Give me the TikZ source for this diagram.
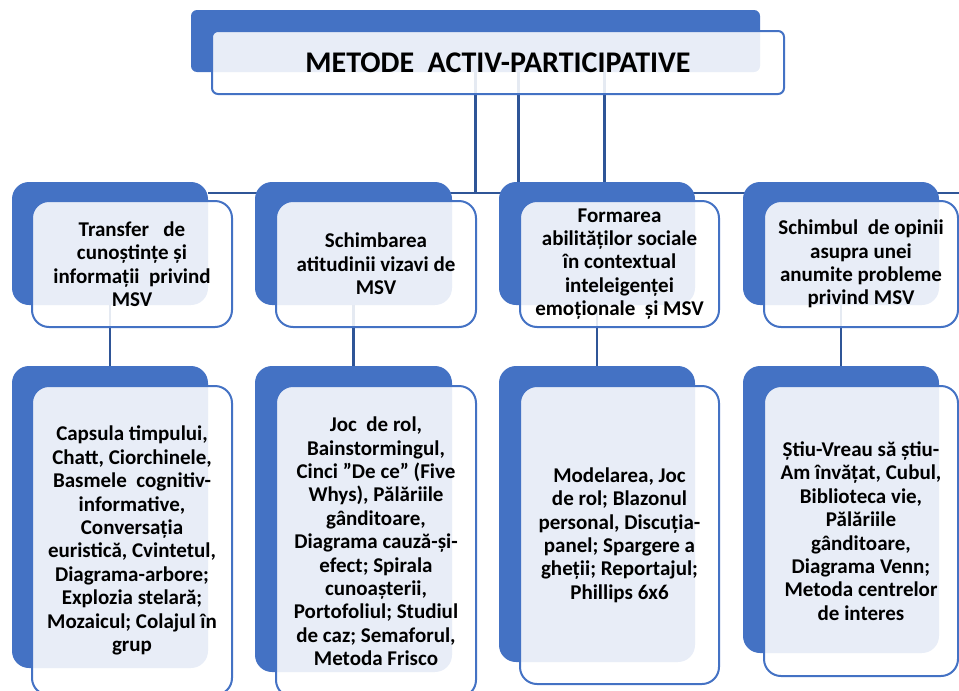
\documentclass[tikz,border=0pt]{standalone}
\usepackage{fontspec}
\setmainfont{Carlito}
\definecolor{boxblue}{RGB}{68,114,196}
\definecolor{linkblue}{RGB}{47,85,151}
\pgfdeclarelayer{bg}
\pgfsetlayers{bg,main}
\tikzset{
  back/.style={fill=boxblue, rounded corners=17pt, inner sep=0pt},
  front/.style={draw=boxblue, line width=2pt, fill=white, fill opacity=0.88, text opacity=1,
    rounded corners=17pt, inner sep=0pt, align=center, font=\bfseries\fontsize{21}{23.4}\selectfont},
  link/.style={draw=linkblue, line width=2.5pt}
}
\begin{document}
\begin{tikzpicture}[x=1pt,y=-1pt]
\useasboundingbox (0,0) rectangle (959,691);
% titlu
\node[back, minimum width=569pt, minimum height=62pt, rounded corners=6pt] (b0) at (475.5,41) {};
\node[front, minimum width=572pt, minimum height=63pt, rounded corners=6pt,
  font=\bfseries\fontsize{30}{34}\selectfont] (f0) at (498,62.5) {METODE~~ACTIV-PARTICIPATIVE};
% primul rand
\node[back, minimum width=196pt, minimum height=123pt] (b1) at (110,243.5) {};
\node[front, minimum width=200pt, minimum height=126pt] (f1) at (132,264) {Transfer~~~de\\cunoștințe și\\informații~~privind\\MSV};
\node[back, minimum width=197pt, minimum height=123pt] (b2) at (353.5,243.5) {};
\node[front, minimum width=200pt, minimum height=126pt] (f2) at (376,264) {Schimbarea\\atitudinii vizavi de\\MSV};
\node[back, minimum width=196pt, minimum height=123pt] (b3) at (597,243.5) {};
\node[front, minimum width=199pt, minimum height=126pt] (f3) at (619.5,264) {Formarea\\abilităților sociale\\în contextual\\inteleigenței\\emoționale~~și MSV};
\node[back, minimum width=196pt, minimum height=123pt] (b4) at (841,243.5) {};
\node[front, minimum width=194pt, minimum height=126pt] (f4) at (861,264) {Schimbul~~de opinii\\asupra unei\\anumite probleme\\privind MSV};
% al doilea rand
\node[back, minimum width=196pt, minimum height=302pt] (b5) at (110,517) {};
\node[front, minimum width=200pt, minimum height=309pt] (f5) at (132,540.5) {Capsula timpului,\\Chatt, Ciorchinele,\\Basmele~~cognitiv-\\informative,\\Conversația\\euristică, Cvintetul,\\Diagrama-arbore;\\Explozia stelară;\\Mozaicul; Colajul în\\grup};
\node[back, minimum width=197pt, minimum height=306pt] (b6) at (353.5,519) {};
\node[front, minimum width=200pt, minimum height=311pt] (f6) at (376,541.5) {Joc~~de rol,\\Bainstormingul,\\Cinci ”De ce” (Five\\Whys), Pălăriile\\gânditoare,\\Diagrama cauză-și-\\efect; Spirala\\cunoașterii,\\Portofoliul; Studiul\\de caz; Semaforul,\\Metoda Frisco};
\node[back, minimum width=196pt, minimum height=296pt] (b7) at (597,514) {};
\node[front, minimum width=199pt, minimum height=298pt] (f7) at (619.5,535) {Modelarea, Joc\\de rol; Blazonul\\personal, Discuția-\\panel; Spargere a\\gheții; Reportajul;\\Phillips 6x6};
\node[back, minimum width=196pt, minimum height=287pt] (b8) at (841,509.5) {};
\node[front, minimum width=194pt, minimum height=290pt] (f8) at (861,531) {Știu-Vreau să știu-\\Am învățat, Cubul,\\Biblioteca vie,\\Pălăriile\\gânditoare,\\Diagrama Venn;\\Metoda centrelor\\de interes};
% legaturi
\coordinate (r) at (959,193);
\coordinate (v1) at ([xshift=43pt]b0.south);
\coordinate (v2) at ([xshift=129pt]b0.south);
\begin{pgfonlayer}{bg}
\draw[link] (b1.east |- r) -- (r);
\draw[link] (b0.south) -- (b0.south |- r);
\draw[link] (v1) -- (v1 |- b3.north);
\draw[link] (v2) -- (v2 |- b3.north);
\foreach \i/\j in {1/5,2/6,3/7,4/8}
  \draw[link] (b\i.south) -- (b\j.north);
\end{pgfonlayer}
\end{tikzpicture}
\end{document}
